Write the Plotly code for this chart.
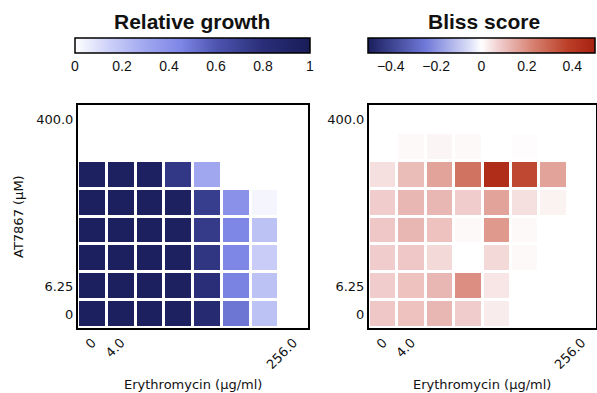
import plotly.graph_objects as go

# Axis categories
erythromycin = ["0", "4.0", "8.0", "16.0", "32.0", "64.0", "128.0", "256.0"]
at7867 = ["0", "6.25", "12.5", "25.0", "50.0", "100.0", "200.0", "400.0"]
x_tick_labels = ["0", "4.0", "256.0"]
y_tick_labels = ["0", "6.25", "400.0"]

# Relative growth, rows bottom (AT7867=0) to top (400.0)
growth_row0 = [0.96, 0.96, 0.96, 0.95, 0.85, 0.50, 0.20, 0.0]
growth_row1 = [0.96, 0.96, 0.96, 0.95, 0.80, 0.46, 0.20, 0.0]
growth_row2 = [0.96, 0.96, 0.96, 0.95, 0.76, 0.45, 0.16, 0.0]
growth_row3 = [0.96, 0.96, 0.96, 0.95, 0.74, 0.45, 0.20, 0.0]
growth_row4 = [0.96, 0.96, 0.96, 0.95, 0.72, 0.40, 0.03, 0.0]
growth_row5 = [0.95, 0.95, 0.94, 0.75, 0.30, 0.0, 0.0, 0.0]
growth_row6 = [0.0, 0.0, 0.0, 0.0, 0.0, 0.0, 0.0, 0.0]
growth_row7 = [0.0, 0.0, 0.0, 0.0, 0.0, 0.0, 0.0, 0.0]

# Bliss score, rows bottom to top
bliss_row0 = [0.09, 0.10, 0.12, 0.08, 0.03, 0.0, 0.0, 0.0]
bliss_row1 = [0.08, 0.10, 0.12, 0.20, 0.04, 0.0, 0.0, 0.0]
bliss_row2 = [0.08, 0.09, 0.06, 0.0, 0.06, 0.01, 0.0, 0.0]
bliss_row3 = [0.09, 0.12, 0.10, 0.01, 0.18, 0.01, 0.0, 0.0]
bliss_row4 = [0.08, 0.12, 0.12, 0.08, 0.16, 0.05, 0.02, 0.0]
bliss_row5 = [0.05, 0.11, 0.16, 0.26, 0.45, 0.36, 0.16, 0.0]
bliss_row6 = [0.0, 0.01, 0.015, 0.01, 0.0, 0.005, 0.0, 0.0]
bliss_row7 = [0.0, 0.0, 0.0, 0.0, 0.0, 0.0, 0.0, 0.0]

growth = [growth_row0, growth_row1, growth_row2, growth_row3,
          growth_row4, growth_row5, growth_row6, growth_row7]
bliss = [bliss_row0, bliss_row1, bliss_row2, bliss_row3,
         bliss_row4, bliss_row5, bliss_row6, bliss_row7]

W, H = 597, 393


def px(x):
    return x / W


def py(y):
    return (H - y) / H


growth_scale = [
    [0.0, "#ffffff"],
    [0.15, "#cbcff8"],
    [0.3, "#a0a7ef"],
    [0.45, "#7e86e6"],
    [0.6, "#4e55b0"],
    [0.8, "#2a2e78"],
    [1.0, "#181c58"],
]
bliss_scale = [
    [0.0, "#1a1e5c"],
    [0.25, "#6e78d8"],
    [0.45, "#dde0f8"],
    [0.5, "#ffffff"],
    [0.58, "#f0cccc"],
    [0.72, "#d88474"],
    [0.88, "#bb3f28"],
    [1.0, "#a82010"],
]

fig = go.Figure()

cb_font = dict(family="Liberation Sans", size=14, color="#111")

fig.add_trace(go.Heatmap(
    z=growth, x=erythromycin, y=at7867, xaxis="x", yaxis="y",
    colorscale=growth_scale, zmin=0, zmax=1, xgap=3, ygap=3,
    colorbar=dict(
        orientation="h", x=px(75), xanchor="left", y=py(38), yanchor="top",
        len=235, lenmode="pixels", thickness=15, xpad=0, ypad=0,
        outlinecolor="black", outlinewidth=1.5, ticks="",
        tickvals=[0, 0.2, 0.4, 0.6, 0.8, 1], ticktext=["0", "0.2", "0.4", "0.6", "0.8", "1"],
        tickfont=cb_font,
    ),
))

fig.add_trace(go.Heatmap(
    z=bliss, x=erythromycin, y=at7867, xaxis="x2", yaxis="y2",
    colorscale=bliss_scale, zmin=-0.5, zmax=0.5, xgap=3, ygap=3,
    colorbar=dict(
        orientation="h", x=px(368), xanchor="left", y=py(38), yanchor="top",
        len=227, lenmode="pixels", thickness=15, xpad=0, ypad=0,
        outlinecolor="black", outlinewidth=1.5, ticks="",
        tickvals=[-0.4, -0.2, 0, 0.2, 0.4], ticktext=["\u22120.4", "\u22120.2", "0", "0.2", "0.4"],
        tickfont=cb_font,
    ),
))

axis_common = dict(
    showline=True, mirror=True, linecolor="black", linewidth=2,
    showgrid=False, zeroline=False, ticks="", type="category",
    tickfont=dict(family="DejaVu Sans", size=13, color="#111"),
)

fig.update_layout(
    width=W, height=H,
    margin=dict(l=0, r=0, t=0, b=0),
    paper_bgcolor="white", plot_bgcolor="white",
    hovermode=False,
    xaxis=dict(axis_common, domain=[px(78), px(308)], anchor="y",
               tickvals=x_tick_labels, tickangle=-45, range=[-0.5, 7.5]),
    yaxis=dict(axis_common, domain=[py(328), py(105)], anchor="x",
               tickvals=y_tick_labels, range=[-0.5, 7.5]),
    xaxis2=dict(axis_common, domain=[px(369), px(596)], anchor="y2",
                tickvals=x_tick_labels, tickangle=-45, range=[-0.5, 7.5]),
    yaxis2=dict(axis_common, domain=[py(328), py(105)], anchor="x2",
                tickvals=y_tick_labels, range=[-0.5, 7.5]),
)

title_font = dict(family="Liberation Sans", size=21, color="#111")
label_font = dict(family="DejaVu Sans", size=13, color="#111")

fig.add_annotation(text="<b>Relative growth</b>", x=px(192), y=py(22), xref="paper", yref="paper",
                   showarrow=False, font=title_font, xanchor="center", yanchor="middle")
fig.add_annotation(text="<b>Bliss score</b>", x=px(484), y=py(22), xref="paper", yref="paper",
                   showarrow=False, font=title_font, xanchor="center", yanchor="middle")
fig.add_annotation(text="Erythromycin (\u00b5g/ml)", x=px(193), y=py(384), xref="paper", yref="paper",
                   showarrow=False, font=label_font, xanchor="center", yanchor="middle")
fig.add_annotation(text="Erythromycin (\u00b5g/ml)", x=px(482), y=py(384), xref="paper", yref="paper",
                   showarrow=False, font=label_font, xanchor="center", yanchor="middle")
fig.add_annotation(text="AT7867 (\u00b5M)", x=px(18), y=py(217), xref="paper", yref="paper",
                   showarrow=False, font=label_font, xanchor="center", yanchor="middle", textangle=-90)

fig.write_html("out.html")
